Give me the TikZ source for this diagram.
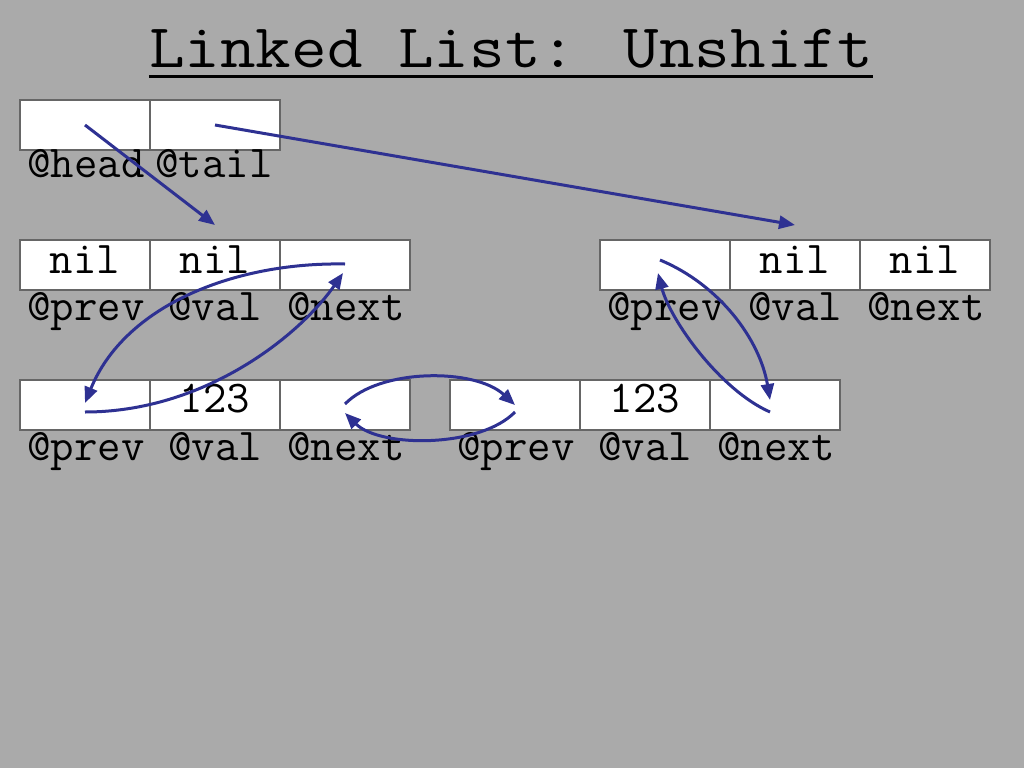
\documentclass[tikz,border=0pt]{standalone}
\usepackage{graphicx}
\usetikzlibrary{arrows.meta}
\definecolor{bg}{HTML}{AAAAAA}
\definecolor{arr}{HTML}{2E3192}
\definecolor{cellline}{HTML}{666666}
\begin{document}
\begin{tikzpicture}[x=1pt,y=-1pt,
  cell/.style={draw=cellline,line width=1.3pt,fill=white,minimum width=130pt,minimum height=50pt,inner sep=0pt,outer sep=0pt,anchor=north west},
  celltext/.style={anchor=base,inner sep=0pt,font=\ttfamily\fontsize{45.5}{45.5}\selectfont},
  lbl/.style={anchor=base,inner sep=0pt,font=\ttfamily\fontsize{45.5}{45.5}\selectfont},
  ptr/.style={draw=arr,line width=3pt,-{Triangle[length=16pt,width=13pt]}},
]
\fill[bg] (0,0) rectangle (1024,768);
\useasboundingbox (0,0) rectangle (1024,768);

% title
\node[anchor=base,inner sep=0pt,font=\ttfamily\fontsize{62}{62}\selectfont] (title) at (511,67) {\scalebox{1.115}[1]{Linked List: Unshift}};
\draw[line width=3pt] ([yshift=-9pt]title.base west) -- ([yshift=-9pt]title.base east);

% head / tail
\node[cell] (h1) at (20,100) {};
\node[cell] (h2) at (150,100) {};
\node[lbl] (lh1) at (86,177) {@head};
\node[lbl] (lh2) at (214,177) {@tail};

% row 2 left (new node)
\node[cell] (a1) at (20,240) {};
\node[cell] (a2) at (150,240) {};
\node[cell] (a3) at (280,240) {};
\node[celltext] (ta1) at (85,273) {nil};
\node[celltext] (ta2) at (215,273) {nil};
\node[lbl] (la1) at (86,320) {@prev};
\node[lbl] (la2) at (215,320) {@val};
\node[lbl] (la3) at (346,320) {@next};

% row 2 right (tail sentinel)
\node[cell] (b1) at (600,240) {};
\node[cell] (b2) at (730,240) {};
\node[cell] (b3) at (860,240) {};
\node[celltext] (tb2) at (795,273) {nil};
\node[celltext] (tb3) at (925,273) {nil};
\node[lbl] (lb1) at (666,320) {@prev};
\node[lbl] (lb2) at (795,320) {@val};
\node[lbl] (lb3) at (926,320) {@next};

% row 3 left
\node[cell] (c1) at (20,380) {};
\node[cell] (c2) at (150,380) {};
\node[cell] (c3) at (280,380) {};
\node[celltext] (tc2) at (215,412) {123};
\node[lbl] (lc1) at (86,460) {@prev};
\node[lbl] (lc2) at (215,460) {@val};
\node[lbl] (lc3) at (346,460) {@next};

% row 3 right
\node[cell] (d1) at (450,380) {};
\node[cell] (d2) at (580,380) {};
\node[cell] (d3) at (710,380) {};
\node[celltext] (td2) at (645,412) {123};
\node[lbl] (ld1) at (516,460) {@prev};
\node[lbl] (ld2) at (645,460) {@val};
\node[lbl] (ld3) at (776,460) {@next};

% pointer ends
\coordinate (headtip) at ([yshift=15pt]a2.north);
\coordinate (tailtip) at ([yshift=15pt]b2.north);
\coordinate (a3out) at ([yshift=1pt]a3.center);
\coordinate (a3in) at ([xshift=-2pt,yshift=-8pt]a3.center);
\coordinate (c1in) at ([yshift=2pt]c1.center);
\coordinate (c1out) at ([yshift=-7pt]c1.center);
\coordinate (c3out) at ([yshift=1pt]c3.center);
\coordinate (c3in) at ([yshift=-8pt]c3.center);
\coordinate (d1in) at (d1.center);
\coordinate (d1out) at ([yshift=-7pt]d1.center);
\coordinate (b1out) at ([xshift=-5pt,yshift=5pt]b1.center);
\coordinate (b1in) at ([xshift=-7pt,yshift=-8pt]b1.center);
\coordinate (d3in) at ([xshift=-5pt,yshift=5pt]d3.center);
\coordinate (d3out) at ([xshift=-5pt,yshift=-7pt]d3.center);

% pointers
\draw[ptr] (h1.center) -- (headtip);
\draw[ptr] (h2.center) -- (tailtip);
\draw[ptr] (a3out) .. controls (235,262) and (125,305) .. (c1in);
\draw[ptr] (c1out) .. controls (205,412) and (300,335) .. (a3in);
\draw[ptr] (c3out) .. controls (380,368) and (475,368) .. (d1in);
\draw[ptr] (d1out) .. controls (480,448) and (380,448) .. (c3in);
\draw[ptr] (b1out) .. controls (720,285) and (760,340) .. (d3in);
\draw[ptr] (d3out) .. controls (720,390) and (670,320) .. (b1in);
\end{tikzpicture}
\end{document}
